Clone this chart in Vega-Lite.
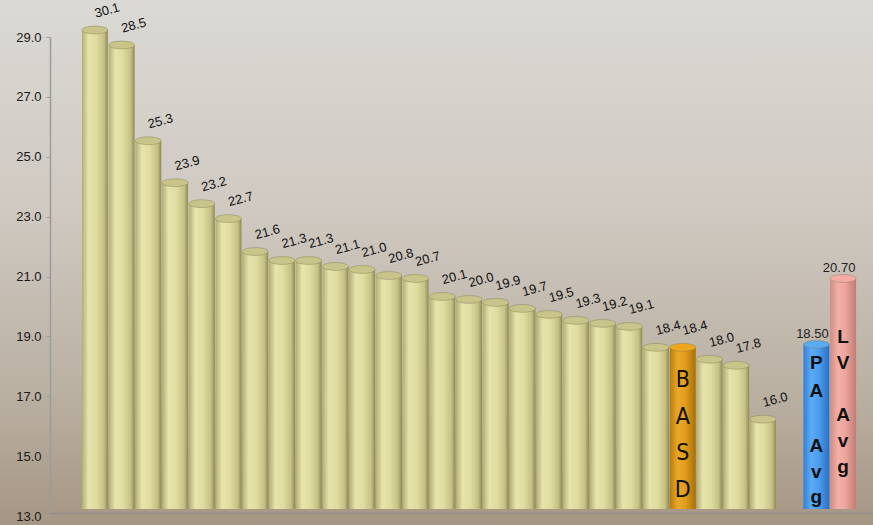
{
  "$schema": "https://vega.github.io/schema/vega-lite/v6.json",
  "width": 873,
  "height": 525,
  "autosize": {"type": "none"},
  "padding": 0,
  "background": "#c4bbb0",
  "config": {
    "font": "Liberation Sans",
    "view": {
      "stroke": null,
      "fill": {
        "gradient": "linear", "x1": 0, "y1": 0, "x2": 0, "y2": 1,
        "stops": [
          {"offset": 0, "color": "#dbd9d5"},
          {"offset": 0.4, "color": "#cfc9c1"},
          {"offset": 0.75, "color": "#bab0a2"},
          {"offset": 1, "color": "#a69684"}
        ]
      }
    }
  },
  "data": {
    "values": [
      {"bar": "b01", "value": 30.1, "group": "main"},
      {"bar": "b02", "value": 28.5, "group": "main"},
      {"bar": "b03", "value": 25.3, "group": "main"},
      {"bar": "b04", "value": 23.9, "group": "main"},
      {"bar": "b05", "value": 23.2, "group": "main"},
      {"bar": "b06", "value": 22.7, "group": "main"},
      {"bar": "b07", "value": 21.6, "group": "main"},
      {"bar": "b08", "value": 21.3, "group": "main"},
      {"bar": "b09", "value": 21.3, "group": "main"},
      {"bar": "b10", "value": 21.1, "group": "main"},
      {"bar": "b11", "value": 21.0, "group": "main"},
      {"bar": "b12", "value": 20.8, "group": "main"},
      {"bar": "b13", "value": 20.7, "group": "main"},
      {"bar": "b14", "value": 20.1, "group": "main"},
      {"bar": "b15", "value": 20.0, "group": "main"},
      {"bar": "b16", "value": 19.9, "group": "main"},
      {"bar": "b17", "value": 19.7, "group": "main"},
      {"bar": "b18", "value": 19.5, "group": "main"},
      {"bar": "b19", "value": 19.3, "group": "main"},
      {"bar": "b20", "value": 19.2, "group": "main"},
      {"bar": "b21", "value": 19.1, "group": "main"},
      {"bar": "b22", "value": 18.4, "group": "main"},
      {"bar": "b23", "value": 18.4, "group": "BASD", "inner": "B\nA\nS\nD"},
      {"bar": "b24", "value": 18.0, "group": "main"},
      {"bar": "b25", "value": 17.8, "group": "main"},
      {"bar": "b26", "value": 16.0, "group": "main"},
      {"bar": "PA", "value": 18.5, "group": "PA", "inner": "P\nA", "inner2": "A\nv\ng"},
      {"bar": "LV", "value": 20.7, "group": "LV", "inner": "L\nV", "inner2": "A\nv\ng"}
    ]
  },
  "encoding": {
    "x": {
      "field": "bar", "type": "nominal",
      "scale": {
        "domain": ["b01","b02","b03","b04","b05","b06","b07","b08","b09","b10","b11","b12","b13","b14","b15","b16","b17","b18","b19","b20","b21","b22","b23","b24","b25","b26","gap","PA","LV"],
        "range": [50, 873],
        "paddingInner": 0.03,
        "paddingOuter": 0.915,
        "align": 0.654
      },
      "axis": {"labels": false, "ticks": false, "title": null, "domain": true, "domainColor": "#8e8e8e", "domainWidth": 1.5, "offset": -12, "zindex": 1}
    },
    "y": {
      "field": "value", "type": "quantitative",
      "scale": {"domain": [13, 29], "range": [516, 37], "clamp": true, "nice": false, "zero": false},
      "axis": {
        "values": [13, 15, 17, 19, 21, 23, 25, 27, 29],
        "format": ".1f",
        "title": null,
        "grid": false,
        "offset": -50,
        "labelFontSize": 13,
        "labelColor": "#1a1a1a",
        "labelPadding": 5,
        "tickSize": 4,
        "tickColor": "#9c9c9c",
        "domainColor": "#9c9c9c",
        "domainWidth": 1.5
      }
    }
  },
  "layer": [
    {
      "transform": [{"filter": "datum.group == 'main'"}],
      "mark": {
        "type": "bar", "yOffset": -7, "y2Offset": -7,
        "color": {
          "gradient": "linear", "x1": 0, "y1": 0, "x2": 1, "y2": 0,
          "stops": [
            {"offset": 0, "color": "#b3ae72"},
            {"offset": 0.25, "color": "#e6e3ad"},
            {"offset": 0.55, "color": "#e0dca0"},
            {"offset": 0.85, "color": "#c5c084"},
            {"offset": 1, "color": "#8f8a55"}
          ]
        }
      },
      "encoding": {"y2": {"datum": 13}}
    },
    {
      "transform": [{"filter": "datum.group == 'BASD'"}],
      "mark": {
        "type": "bar", "yOffset": -7, "y2Offset": -7,
        "color": {
          "gradient": "linear", "x1": 0, "y1": 0, "x2": 1, "y2": 0,
          "stops": [
            {"offset": 0, "color": "#b87c0c"},
            {"offset": 0.3, "color": "#eaa82a"},
            {"offset": 0.6, "color": "#e09c1c"},
            {"offset": 1, "color": "#a86e08"}
          ]
        }
      },
      "encoding": {"y2": {"datum": 13}}
    },
    {
      "transform": [{"filter": "datum.group == 'PA'"}],
      "mark": {
        "type": "bar", "yOffset": -7, "y2Offset": -7,
        "color": {
          "gradient": "linear", "x1": 0, "y1": 0, "x2": 1, "y2": 0,
          "stops": [
            {"offset": 0, "color": "#2f7fd8"},
            {"offset": 0.3, "color": "#5cabf6"},
            {"offset": 0.6, "color": "#4b9cee"},
            {"offset": 1, "color": "#2a70c4"}
          ]
        }
      },
      "encoding": {"y2": {"datum": 13}}
    },
    {
      "transform": [{"filter": "datum.group == 'LV'"}],
      "mark": {
        "type": "bar", "yOffset": -7, "y2Offset": -7,
        "color": {
          "gradient": "linear", "x1": 0, "y1": 0, "x2": 1, "y2": 0,
          "stops": [
            {"offset": 0, "color": "#d08c84"},
            {"offset": 0.3, "color": "#f2b0a8"},
            {"offset": 0.6, "color": "#eca49c"},
            {"offset": 1, "color": "#c07c74"}
          ]
        }
      },
      "encoding": {"y2": {"datum": 13}}
    },
    {
      "mark": {
        "type": "point",
        "shape": "M-1,0A1,0.3,0,1,0,1,0A1,0.3,0,1,0,-1,0Z",
        "size": 676,
        "filled": true,
        "opacity": 1,
        "yOffset": -7,
        "stroke": "#7f7a4c",
        "strokeWidth": 0.6,
        "strokeOpacity": 0.7
      },
      "encoding": {
        "color": {
          "field": "group", "type": "nominal",
          "scale": {"domain": ["main", "BASD", "PA", "LV"], "range": ["#c8c48a", "#eda61e", "#5aaaf2", "#f3aba3"]},
          "legend": null
        }
      }
    },
    {
      "transform": [{"filter": "datum.group == 'main' || datum.group == 'BASD'"}],
      "mark": {"type": "text", "align": "left", "baseline": "alphabetic", "angle": -15, "dx": 1, "yOffset": -19, "fontSize": 13, "color": "#111111"},
      "encoding": {"text": {"field": "value", "type": "quantitative", "format": ".1f"}}
    },
    {
      "transform": [{"filter": "datum.group == 'PA' || datum.group == 'LV'"}],
      "mark": {"type": "text", "align": "center", "baseline": "alphabetic", "dx": -4, "yOffset": -13, "fontSize": 13, "color": "#222222"},
      "encoding": {"text": {"field": "value", "type": "quantitative", "format": ".2f"}}
    },
    {
      "transform": [{"filter": "datum.group == 'BASD'"}],
      "mark": {"type": "text", "align": "center", "baseline": "top", "lineBreak": "\n", "lineHeight": 36.5, "fontSize": 23, "font": "DejaVu Sans Condensed, Liberation Sans, sans-serif", "yOffset": 15, "color": "#111111"},
      "encoding": {"text": {"field": "inner", "type": "nominal"}}
    },
    {
      "transform": [{"filter": "datum.group == 'PA'"}],
      "mark": {"type": "text", "align": "center", "baseline": "top", "lineBreak": "\n", "lineHeight": 28, "fontSize": 19, "fontWeight": "bold", "yOffset": 3, "color": "#111111"},
      "encoding": {"text": {"field": "inner", "type": "nominal"}}
    },
    {
      "transform": [{"filter": "datum.group == 'PA'"}],
      "mark": {"type": "text", "align": "center", "baseline": "top", "lineBreak": "\n", "lineHeight": 25.5, "fontSize": 19, "fontWeight": "bold", "yOffset": 86, "color": "#111111"},
      "encoding": {"text": {"field": "inner2", "type": "nominal"}}
    },
    {
      "transform": [{"filter": "datum.group == 'LV'"}],
      "mark": {"type": "text", "align": "center", "baseline": "top", "lineBreak": "\n", "lineHeight": 26, "fontSize": 19, "fontWeight": "bold", "yOffset": 43, "color": "#111111"},
      "encoding": {"text": {"field": "inner", "type": "nominal"}}
    },
    {
      "transform": [{"filter": "datum.group == 'LV'"}],
      "mark": {"type": "text", "align": "center", "baseline": "top", "lineBreak": "\n", "lineHeight": 26, "fontSize": 19, "fontWeight": "bold", "yOffset": 121, "color": "#111111"},
      "encoding": {"text": {"field": "inner2", "type": "nominal"}}
    }
  ]
}
